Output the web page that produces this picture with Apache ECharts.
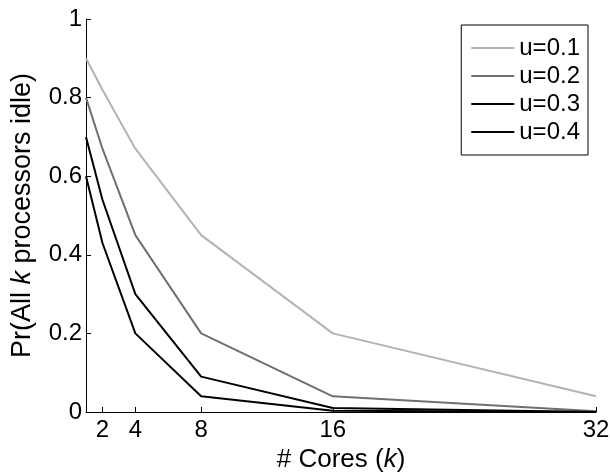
<!DOCTYPE html>
<html>
<head>
<meta charset="utf-8">
<script src="https://cdn.jsdelivr.net/npm/echarts@6/dist/echarts.min.js"></script>
<style>
  html, body { margin: 0; padding: 0; background: #fff; }
  #chart { width: 610px; height: 472px; }
</style>
</head>
<body>
<div id="chart"></div>
<script>
// number of cores k
const cores = [1, 2, 4, 8, 16, 32]
const coreTicks = [2, 4, 8, 16, 32]

// Pr(all k processors idle)
const u01 = [0.90, 0.82, 0.67, 0.45, 0.20, 0.04]
const u02 = [0.80, 0.67, 0.45, 0.20, 0.04, 0.002]
const u03 = [0.70, 0.54, 0.30, 0.09, 0.01, 0.0]
const u04 = [0.60, 0.43, 0.20, 0.04, 0.003, 0.0]

const seriesNames = ['u=0.1', 'u=0.2', 'u=0.3', 'u=0.4']
const seriesData = [u01, u02, u03, u04]
const colors = ['#b3b3b3', '#6f6f6f', '#000000', '#000000']

const font = 'Liberation Sans, Arial, Helvetica, sans-serif'

const chart = echarts.init(document.getElementById('chart'))

chart.setOption({
	animation: false,
	textStyle: { fontFamily: font, color: '#000' },
	grid: { left: 86, right: 14, top: 19, bottom: 60, containLabel: false, outerBoundsMode: 'none' },
	legend: {
		orient: 'vertical',
		right: 22,
		top: 25,
		data: seriesNames,
		icon: 'rect',
		borderColor: '#000',
		borderWidth: 1,
		borderRadius: 0,
		padding: [11, 8, 11, 10],
		itemWidth: 43,
		itemHeight: 2,
		itemGap: 4,
		textStyle: { fontSize: 24, fontFamily: font, color: '#000', lineHeight: 24 }
	},
	xAxis: {
		type: 'value',
		min: 1,
		max: 32,
		name: '# Cores ({i|k})',
		nameLocation: 'middle',
		nameGap: 30,
		nameTextStyle: {
			fontSize: 26, color: '#000', fontFamily: font,
			rich: { i: { fontSize: 26, fontStyle: 'italic', fontFamily: font, color: '#000' } }
		},
		axisLine: { lineStyle: { color: '#000', width: 1 } },
		axisTick: { inside: true, length: 5, customValues: coreTicks, lineStyle: { color: '#000' } },
		axisLabel: { customValues: coreTicks, fontSize: 24, color: '#000', margin: 6 },
		splitLine: { show: false }
	},
	yAxis: {
		type: 'value',
		min: 0,
		max: 1,
		interval: 0.2,
		name: 'Pr(All {i|k} processors idle)',
		nameLocation: 'middle',
		nameGap: 50,
		nameTextStyle: {
			fontSize: 27, color: '#000', fontFamily: font,
			rich: { i: { fontSize: 27, fontStyle: 'italic', fontFamily: font, color: '#000' } }
		},
		axisLine: { show: true, lineStyle: { color: '#000', width: 1 } },
		axisTick: { show: true, inside: true, length: 5, lineStyle: { color: '#000' } },
		axisLabel: { fontSize: 24, color: '#000', margin: 4 },
		splitLine: { show: false }
	},
	series: seriesNames.map((name, i) => ({
		name,
		type: 'line',
		symbol: 'none',
		data: cores.map((k, j) => [k, seriesData[i][j]]),
		lineStyle: { color: colors[i], width: 2 },
		itemStyle: { color: colors[i] }
	}))
})
</script>
</body>
</html>
